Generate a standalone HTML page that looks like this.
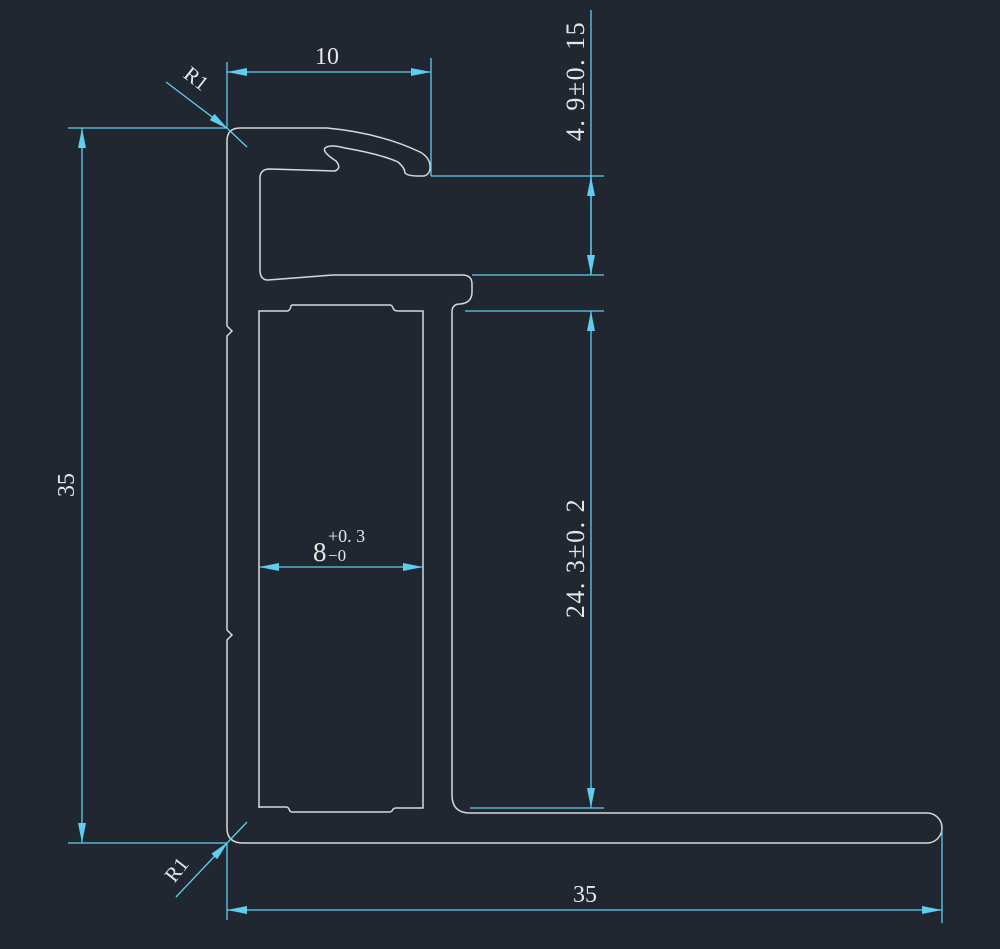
<!DOCTYPE html>
<html><head><meta charset="utf-8"><style>
html,body{margin:0;padding:0;background:#212731;}
svg{display:block}
text{font-family:"Liberation Serif",serif;fill:#e6e6e6;}
</style></head><body>
<svg width="1000" height="949" viewBox="0 0 1000 949" xmlns="http://www.w3.org/2000/svg">
<rect width="1000" height="949" fill="#212731"/>
<defs>
<marker id="a" viewBox="0 0 20 8" refX="20" refY="4" markerWidth="20" markerHeight="8" markerUnits="userSpaceOnUse" orient="auto-start-reverse">
<path d="M0,0 L20,4 L0,8 Z" fill="#5fcdf0"/></marker>
</defs>
<g fill="none" stroke="#d8d8d8" stroke-width="1.5">
<path d="M243,843 L927,843 A15,15 0 0 0 927,813 L470,813 Q452,813 452,795 L452,312 Q452,304 460,304 Q472,303 472,292 L472,284 Q472,275 462,275 L333,275 L268,280 Q260,280 260,270 L260,178 Q260,169 270,169 L335,171 Q342,168 336,161 Q322,152 325,148 Q330,144 345,148 Q380,154 398,162 Q405,168 405,173 Q408,176 418,176 L424,176 Q431,174 430,165 Q429,157 420,152 Q380,133 327,128 L240,128 Q227,128 227,141 L227,326 L232,331 L227,336 L227,630 L232,635 L227,640 L227,828 Q227,843 243,843 Z"/>
<path d="M259,808 L259,311 L287,311 Q290,311 291,306 L292,305 L390,305 Q392,305 393,308 Q394,311 398,311 L423,311 L423,808 L396,808 Q393,808 392,811 L390,812 L292,812 Q290,812 289,809 Q288,807 286,807 L259,807"/>
</g>
<g fill="none" stroke="#5fcdf0" stroke-width="1.3">
<line x1="227" y1="62" x2="227" y2="128"/>
<line x1="431" y1="58" x2="431" y2="176"/>
<line x1="227" y1="72" x2="431" y2="72" marker-start="url(#a)" marker-end="url(#a)"/>
<line x1="166" y1="82" x2="228" y2="129" marker-end="url(#a)"/>
<line x1="228" y1="129" x2="247" y2="147"/>
<line x1="176" y1="897" x2="228" y2="842" marker-end="url(#a)"/>
<line x1="228" y1="842" x2="247" y2="822"/>
<line x1="68" y1="128" x2="227" y2="128"/>
<line x1="68" y1="843" x2="227" y2="843"/>
<line x1="82" y1="128" x2="82" y2="843" marker-start="url(#a)" marker-end="url(#a)"/>
<line x1="227" y1="843" x2="227" y2="920"/>
<line x1="942" y1="830" x2="942" y2="923"/>
<line x1="227" y1="910" x2="942" y2="910" marker-start="url(#a)" marker-end="url(#a)"/>
<line x1="431" y1="176" x2="604" y2="176"/>
<line x1="472" y1="275" x2="604" y2="275"/>
<line x1="465" y1="311" x2="604" y2="311"/>
<line x1="470" y1="808" x2="604" y2="808"/>
<line x1="591" y1="10" x2="591" y2="176"/>
<line x1="591" y1="275" x2="591" y2="176" marker-end="url(#a)"/>
<line x1="591" y1="176" x2="591" y2="275" marker-end="url(#a)"/>
<line x1="591" y1="311" x2="591" y2="808" marker-start="url(#a)" marker-end="url(#a)"/>
<line x1="259" y1="567" x2="423" y2="567" marker-start="url(#a)" marker-end="url(#a)"/>
</g>
<text x="327" y="64" font-size="24" text-anchor="middle">10</text>
<text x="585" y="902" font-size="24" text-anchor="middle">35</text>
<text transform="translate(74,485) rotate(-90)" font-size="24" text-anchor="middle">35</text>
<text transform="translate(192,84) rotate(38)" font-size="21" text-anchor="middle">R1</text>
<text transform="translate(182,874) rotate(-52)" font-size="21" text-anchor="middle">R1</text>
<text transform="translate(584,81) rotate(-90)" font-size="26" letter-spacing="1.5" text-anchor="middle">4. 9±0. 15</text>
<text transform="translate(584,558) rotate(-90)" font-size="26" letter-spacing="1.5" text-anchor="middle">24. 3±0. 2</text>
<text x="313" y="561" font-size="27">8</text>
<text x="328" y="561" font-size="17">−0</text>
<text x="328" y="542" font-size="18">+0. 3</text>
</svg>
</body></html>
